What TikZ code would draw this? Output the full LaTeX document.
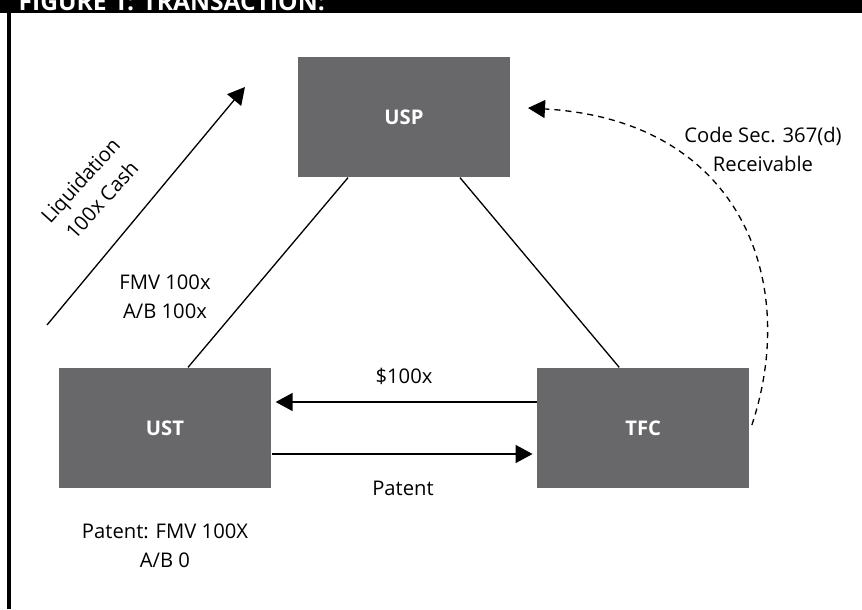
\documentclass[tikz,border=0pt]{standalone}
\usepackage{fontspec}
\setmainfont{Open Sans}
\usetikzlibrary{arrows.meta,positioning}
\definecolor{boxgray}{RGB}{104,104,106}
\tikzset{>={Triangle[length=0.34cm,width=0.36cm]}}

\begin{document}
\begin{tikzpicture}[x=0.02cm, y=-0.02cm, line width=0.75pt,
    every node/.style={font=\fontsize{11.5}{16.5}\selectfont, align=center},
    entity/.style={fill=boxgray, text=white, font=\fontsize{11.5}{16}\selectfont\bfseries,
      minimum width=4.24cm, minimum height=2.4cm, inner sep=0pt}]
    \useasboundingbox (0,0) rectangle (862,609);

    % Header bar and frame
    \fill (0,0) rectangle (862,13);
    \begin{scope}
      \clip (0,0) rectangle (862,13);
      \node[anchor=base west, text=white, inner sep=0pt,
        font=\fontsize{14}{16}\selectfont\bfseries] (title) at (18,10) {FIGURE 1: TRANSACTION:};
    \end{scope}
    \draw[line width=1.9pt] (9,13) -- (9,609);

    % Nodes
    \node[entity] (USP) at (404,117) {USP};
    \node[entity] (UST) at (165,428) {UST};
    \node[entity] (TFC) [right=5.3cm of UST] {TFC};

    % Labels
    \node[rotate=48] (liq) at (91,190) {Liquidation\\100x Cash};
    \node (fmv) at (165,297) {FMV 100x\\A/B 100x};
    \node (cash) at (404,376) {\$100x};
    \node (pat) at (403,488) {Patent};
    \node (patfmv) at (165,546) {Patent: FMV 100X\\A/B 0};
    \node (code) at (763,149) {Code Sec. 367(d)\\Receivable};

    % Arrows
    \coordinate (liqStart) at (47,325);
    \coordinate (liqEnd) at (245,87);
    \coordinate (rcvEnd) at (528,108);
    \draw[->] (liqStart) -- (liqEnd);
    \draw ([xshift=0.46cm]UST.north) -- ([xshift=-1.12cm]USP.south);
    \draw ([xshift=1.12cm]USP.south) -- ([xshift=-0.48cm]TFC.north);
    \draw[->, shorten >=0.08cm] ([yshift=0.52cm]TFC.west) -- ([yshift=0.52cm]UST.east);
    \draw[->, shorten >=0.08cm] ([yshift=-0.52cm]UST.east) -- ([yshift=-0.52cm]TFC.west);
    \draw[->, dash pattern=on 3.5pt off 2.8pt] ([shift={(2,-3)}]TFC.east)
      .. controls (800,280) and (740,120) .. (rcvEnd);
\end{tikzpicture}
\end{document}
